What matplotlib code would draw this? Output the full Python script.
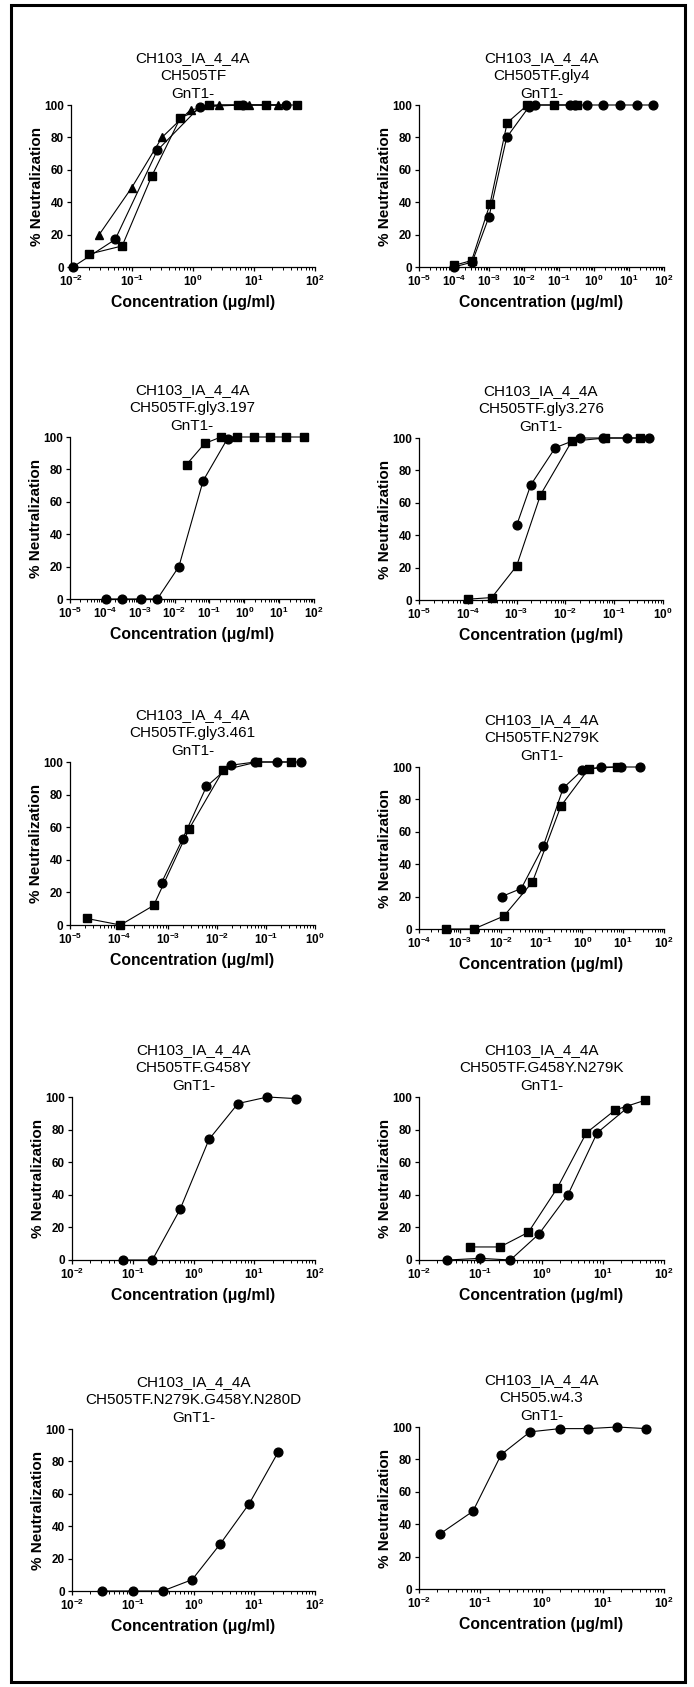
import matplotlib
matplotlib.use("Agg")
import matplotlib.pyplot as plt
from matplotlib.patches import Rectangle
from matplotlib.ticker import LogLocator, LogFormatterSciNotation, MultipleLocator, NullFormatter

plt.rcParams["font.family"] = ["Liberation Sans", "DejaVu Sans"]

W, H = 694, 1687

# panel titles (virus names)
viruses = [
    "CH505TF", "CH505TF.gly4",
    "CH505TF.gly3.197", "CH505TF.gly3.276",
    "CH505TF.gly3.461", "CH505TF.N279K",
    "CH505TF.G458Y", "CH505TF.G458Y.N279K",
    "CH505TF.N279K.G458Y.N280D", "CH505.w4.3",
]
x_limits = [
    (1e-2, 1e2), (1e-5, 1e2),
    (1e-5, 1e2), (1e-5, 1e0),
    (1e-5, 1e0), (1e-4, 1e2),
    (1e-2, 1e2), (1e-2, 1e2),
    (1e-2, 1e2), (1e-2, 1e2),
]

# CH505TF
p1_circle_x = [0.0107, 0.053, 0.26, 1.3, 6.7, 33]
p1_circle_y = [0, 17, 72, 99, 100, 100]
p1_square_x = [0.02, 0.069, 0.21, 0.62, 1.85, 5.4, 15.5, 50]
p1_square_y = [8, 13, 56, 92, 100, 100, 100, 100]
p1_tri_x = [0.029, 0.099, 0.31, 0.91, 2.7, 8.2, 24.6]
p1_tri_y = [20, 49, 80, 97, 100, 100, 100]

# CH505TF.gly4
p2_circle_x = [1.0e-4, 3.3e-4, 1.0e-3, 3.2e-3, 0.014, 0.021, 0.21, 0.28, 0.62, 1.85, 5.6, 16.7, 50]
p2_circle_y = [0, 3, 31, 80, 99, 100, 100, 100, 100, 100, 100, 100, 100]
p2_square_x = [1.0e-4, 3.2e-4, 1.07e-3, 3.3e-3, 0.0125, 0.07, 0.33]
p2_square_y = [1, 4, 39, 89, 100, 100, 100]

# CH505TF.gly3.197
p3_circle_x = [1.07e-4, 3.2e-4, 1.07e-3, 3.2e-3, 0.0133, 0.066, 0.33]
p3_circle_y = [0, 0, 0, 0, 20, 73, 99]
p3_square_x = [0.022, 0.073, 0.215, 0.62, 1.85, 5.5, 16, 50]
p3_square_y = [83, 96, 100, 100, 100, 100, 100, 100]

# CH505TF.gly3.276
p4_circle_x = [1.0e-3, 1.95e-3, 6.2e-3, 0.02, 0.058, 0.18, 0.52]
p4_circle_y = [46, 71, 94, 100, 100, 100, 100]
p4_square_x = [1.0e-4, 3.1e-4, 1.0e-3, 3.1e-3, 0.0135, 0.066, 0.33]
p4_square_y = [0.5, 1.5, 21, 65, 98, 100, 100]

# CH505TF.gly3.461
p5_circle_x = [7.4e-4, 2.0e-3, 6.1e-3, 0.019, 0.06, 0.167, 0.51]
p5_circle_y = [26, 53, 85, 98, 100, 100, 100]
p5_square_x = [2.2e-5, 1.07e-4, 5.1e-4, 2.7e-3, 0.0134, 0.066, 0.32]
p5_square_y = [4, 0, 12, 59, 95, 100, 100]

# CH505TF.N279K
p6_circle_x = [0.0105, 0.032, 0.11, 0.34, 1.0, 2.9, 8.7, 25.7]
p6_circle_y = [20, 25, 51, 87, 98, 100, 100, 100]
p6_square_x = [4.5e-4, 2.2e-3, 0.012, 0.06, 0.30, 1.45, 7.2]
p6_square_y = [0, 0, 8, 29, 76, 99, 100]

# CH505TF.G458Y
p7_circle_x = [0.068, 0.21, 0.60, 1.8, 5.4, 16.5, 49]
p7_circle_y = [0, 0, 31, 74, 96, 100, 99]

# CH505TF.G458Y.N279K
p8_circle_x = [0.029, 0.10, 0.31, 0.91, 2.7, 8.1, 24.5]
p8_circle_y = [0, 1, 0, 16, 40, 78, 93]
p8_square_x = [0.069, 0.21, 0.61, 1.8, 5.4, 15.9, 49]
p8_square_y = [8, 8, 17, 44, 78, 92, 98]

# CH505TF.N279K.G458Y.N280D
p9_circle_x = [0.0316, 0.10, 0.31, 0.95, 2.75, 8.3, 25]
p9_circle_y = [0, 0, 0, 7, 29, 54, 86]

# CH505.w4.3
p10_circle_x = [0.022, 0.076, 0.22, 0.65, 2.0, 5.8, 17.3, 51]
p10_circle_y = [34, 48, 83, 97, 99, 99, 100, 99]

series = [
    [("o", p1_circle_x, p1_circle_y), ("s", p1_square_x, p1_square_y), ("^", p1_tri_x, p1_tri_y)],
    [("o", p2_circle_x, p2_circle_y), ("s", p2_square_x, p2_square_y)],
    [("o", p3_circle_x, p3_circle_y), ("s", p3_square_x, p3_square_y)],
    [("o", p4_circle_x, p4_circle_y), ("s", p4_square_x, p4_square_y)],
    [("o", p5_circle_x, p5_circle_y), ("s", p5_square_x, p5_square_y)],
    [("o", p6_circle_x, p6_circle_y), ("s", p6_square_x, p6_square_y)],
    [("o", p7_circle_x, p7_circle_y)],
    [("o", p8_circle_x, p8_circle_y), ("s", p8_square_x, p8_square_y)],
    [("o", p9_circle_x, p9_circle_y)],
    [("o", p10_circle_x, p10_circle_y)],
]

# axes boxes in pixels: left, top, right, bottom
boxes = [
    (71, 105, 315, 267), (419, 105, 664, 267),
    (70, 437, 314, 599), (419, 438, 663, 600),
    (70, 762, 315, 925), (419, 767, 664, 929),
    (72, 1097, 315, 1260), (419, 1097, 664, 1260),
    (72, 1429, 315, 1591), (419, 1427, 664, 1589),
]

fig = plt.figure(figsize=(W / 100, H / 100), dpi=100)

for i, (l, t, r, b) in enumerate(boxes):
    ax = fig.add_axes([l / W, 1 - b / H, (r - l) / W, (b - t) / H])
    for marker, xs, ys in series[i]:
        ax.plot(xs, ys, color="black", lw=0.8, marker=marker, ms=6.3,
                mfc="black", mec="black", clip_on=False, zorder=3)

    ax.set_xscale("log")
    ax.set_xlim(*x_limits[i])
    ax.set_ylim(0, 100)
    ax.xaxis.set_major_locator(LogLocator(base=10, numticks=20))
    ax.xaxis.set_minor_locator(LogLocator(base=10, subs=range(2, 10), numticks=20))
    ax.xaxis.set_major_formatter(LogFormatterSciNotation())
    ax.xaxis.set_minor_formatter(NullFormatter())
    ax.yaxis.set_major_locator(MultipleLocator(20))

    for side in ("top", "right"):
        ax.spines[side].set_visible(False)
    for side in ("left", "bottom"):
        ax.spines[side].set_linewidth(0.9)

    ax.tick_params(which="major", direction="out", length=3, width=0.9, pad=2,
                   labelsize=8.5)
    ax.tick_params(which="minor", direction="out", length=1.8, width=0.7)
    for lab in ax.get_xticklabels() + ax.get_yticklabels():
        lab.set_fontweight("bold")

    ax.set_title(f"CH103_IA_4_4A\n{viruses[i]}\nGnT1-", fontsize=11, pad=5,
                 linespacing=1.35)
    ax.set_xlabel("Concentration (\u03bcg/ml)", fontsize=11.3, fontweight="bold")
    ax.set_ylabel("% Neutralization", fontsize=11, fontweight="bold")
    ax.xaxis.set_label_coords(0.5, -28 / (b - t))
    ax.yaxis.set_label_coords(-27 / (r - l), 0.5)

fig.patches.append(Rectangle((11 / W, 5 / H), (685 - 11) / W, (1682 - 5) / H,
                             transform=fig.transFigure, fill=False,
                             lw=2.2, ec="black"))

fig.savefig("out.png", dpi=100)
